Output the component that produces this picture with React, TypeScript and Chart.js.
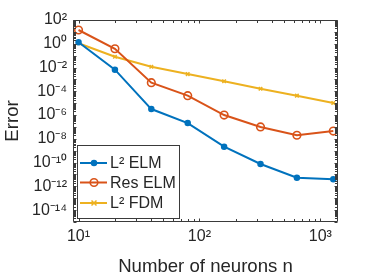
import React, { useEffect, useRef } from "react";
import { Chart, registerables } from "chart.js";

Chart.register(...registerables);

const neurons = [10, 20, 40, 80, 160, 320, 640, 1280];
const l2Elm = [1.33, 6.6e-3, 3.2e-6, 2.1e-7, 2.2e-9, 7.6e-11, 5.3e-12, 3.9e-12];
const resElm = [14.4, 0.38, 5.3e-4, 4.3e-5, 1.0e-6, 1.0e-7, 2.0e-8, 4.5e-8];
const l2Fdm = [1.1, 0.081, 0.0117, 2.8e-3, 6.9e-4, 1.65e-4, 4.3e-5, 1.03e-5];
const seriesLabels = ["L² ELM", "Res ELM", "L² FDM"];
const xTickValues = [10, 100, 1000];
const yTickValues = [1e2, 1e0, 1e-2, 1e-4, 1e-6, 1e-8, 1e-10, 1e-12, 1e-14];

const SUP: Record<string, string> = {
  "0": "⁰", "1": "¹", "2": "²", "3": "³", "4": "⁴", "5": "⁵",
  "6": "⁶", "7": "⁷", "8": "⁸", "9": "⁹", "-": "⁻",
};
const powLabel = (v: number) => {
  const e = Math.round(Math.log10(v));
  return "10" + String(e).split("").map((c) => SUP[c] || c).join("");
};

const FONT = "'Liberation Sans', Arial, Helvetica, sans-serif";
const TEXT = "#262626";
const COLORS = ["#0072BD", "#D95319", "#EDB120"];
const STYLES = ["circle", "circle", "crossRot"];

const boxPlugin = {
  id: "matlabBox",
  afterDatasetsDraw(chart: any) {
    const { ctx, chartArea: a, scales } = chart;
    const xs = scales.x;
    const ys = scales.y;
    ctx.save();
    ctx.strokeStyle = "#3a3a3a";
    ctx.lineWidth = 1;
    const L = Math.round(a.left) + 0.5;
    const R = Math.round(a.right) - 0.5;
    const T = Math.round(a.top) + 0.5;
    const B = Math.round(a.bottom) - 0.5;
    ctx.beginPath();
    ctx.rect(L, T, R - L, B - T);
    ctx.stroke();
    ctx.beginPath();
    for (let k = 0; k <= 4; k++) {
      for (let m = 1; m <= 9; m++) {
        const v = m * Math.pow(10, k);
        if (v < xs.min || v > xs.max) continue;
        const px = Math.round(xs.getPixelForValue(v)) + 0.5;
        const len = m === 1 ? 3 : 2.5;
        ctx.moveTo(px, B);
        ctx.lineTo(px, B - len);
        ctx.moveTo(px, T);
        ctx.lineTo(px, T + len);
      }
    }
    for (let k = -16; k <= 3; k++) {
      for (let m = 1; m <= 9; m++) {
        const v = m * Math.pow(10, k);
        if (v < ys.min || v > ys.max) continue;
        const py = Math.round(ys.getPixelForValue(v)) + 0.5;
        const len = m === 1 ? 3 : 2.5;
        ctx.moveTo(L, py);
        ctx.lineTo(L + len, py);
        ctx.moveTo(R, py);
        ctx.lineTo(R - len, py);
      }
    }
    ctx.stroke();
    ctx.restore();
  },
};

const legendPlugin = {
  id: "insideLegend",
  afterDraw(chart: any) {
    const { ctx } = chart;
    const x0 = 77.5, y0 = 145.5, w = 102, h = 73;
    ctx.save();
    ctx.fillStyle = "#ffffff";
    ctx.fillRect(x0, y0, w, h);
    ctx.strokeStyle = "#3a3a3a";
    ctx.lineWidth = 1;
    ctx.strokeRect(x0, y0, w, h);
    const rows = [163, 182.5, 203];
    chart.data.datasets.forEach((ds: any, i: number) => {
      const y = rows[i];
      ctx.strokeStyle = ds.borderColor;
      ctx.lineWidth = 2;
      ctx.beginPath();
      ctx.moveTo(80, y);
      ctx.lineTo(107, y);
      ctx.stroke();
      const cx = 94;
      if (ds.pointStyle === "circle") {
        ctx.beginPath();
        ctx.arc(cx, y, ds.pointRadius, 0, Math.PI * 2);
        ctx.fillStyle = ds.pointBackgroundColor;
        ctx.fill();
        ctx.lineWidth = ds.pointBorderWidth;
        ctx.stroke();
      } else {
        const r = ds.pointRadius;
        ctx.lineWidth = ds.pointBorderWidth;
        ctx.beginPath();
        ctx.moveTo(cx - r, y - r);
        ctx.lineTo(cx + r, y + r);
        ctx.moveTo(cx - r, y + r);
        ctx.lineTo(cx + r, y - r);
        ctx.stroke();
      }
      ctx.fillStyle = TEXT;
      ctx.font = `16px ${FONT}`;
      ctx.textBaseline = "middle";
      ctx.textAlign = "left";
      ctx.fillText(ds.label, 110, y + 1);
    });
    ctx.restore();
  },
};

export default function App() {
  const ref = useRef<HTMLCanvasElement | null>(null);
  useEffect(() => {
    if (!ref.current) return;
    const series = [l2Elm, resElm, l2Fdm];
    const chart = new Chart(ref.current, {
      type: "line",
      data: {
        datasets: series.map((vals, i) => ({
          label: seriesLabels[i],
          data: neurons.map((n, j) => ({ x: n, y: vals[j] })),
          borderColor: COLORS[i],
          backgroundColor: COLORS[i],
          borderWidth: 2,
          pointStyle: STYLES[i] as any,
          pointRadius: i === 0 ? 2.5 : i === 1 ? 3.8 : 2.5,
          pointBorderWidth: i === 1 ? 1.6 : 1.5,
          pointBackgroundColor: i === 0 ? COLORS[0] : i === 1 ? "rgba(0,0,0,0)" : COLORS[2],
          pointBorderColor: COLORS[i],
          fill: false,
          tension: 0,
        })),
      },
      options: {
        animation: false,
        responsive: false,
        layout: { padding: { left: 0, top: 20, right: 36, bottom: 0 } },
        plugins: { legend: { display: false }, tooltip: { enabled: false } },
        scales: {
          x: {
            type: "logarithmic",
            min: 9,
            max: 1400,
            grid: { display: false, drawTicks: false },
            border: { display: false },
            afterBuildTicks: (s: any) => {
              s.ticks = xTickValues.map((v) => ({ value: v }));
            },
            afterFit: (s: any) => {
              s.height = 58;
            },
            ticks: {
              autoSkip: false,
              maxRotation: 0,
              padding: 5,
              color: TEXT,
              font: { family: FONT, size: 16 },
              callback: (v: any) => powLabel(Number(v)),
            },
            title: {
              display: true,
              text: "Number of neurons n",
              color: TEXT,
              font: { family: FONT, size: 18.6 },
              padding: { top: 0, bottom: 2 },
            },
          },
          y: {
            type: "logarithmic",
            min: 1e-15,
            max: 1e2,
            grid: { display: false, drawTicks: false },
            border: { display: false },
            afterBuildTicks: (s: any) => {
              s.ticks = yTickValues.map((v) => ({ value: v }));
            },
            afterFit: (s: any) => {
              s.width = 73;
            },
            ticks: {
              autoSkip: false,
              padding: 6,
              color: TEXT,
              font: { family: FONT, size: 16 },
              callback: (v: any) => powLabel(Number(v)),
            },
            title: {
              display: true,
              text: "Error",
              color: TEXT,
              font: { family: FONT, size: 18.6 },
              padding: { top: 2, bottom: 0 },
            },
          },
        },
      },
      plugins: [boxPlugin, legendPlugin],
    });
    return () => chart.destroy();
  }, []);
  return (
    <div style={{ position: "fixed", left: 0, top: 0, width: 374, height: 280, background: "#fff" }}>
      <canvas ref={ref} width={374} height={280} style={{ display: "block" }} />
    </div>
  );
}
